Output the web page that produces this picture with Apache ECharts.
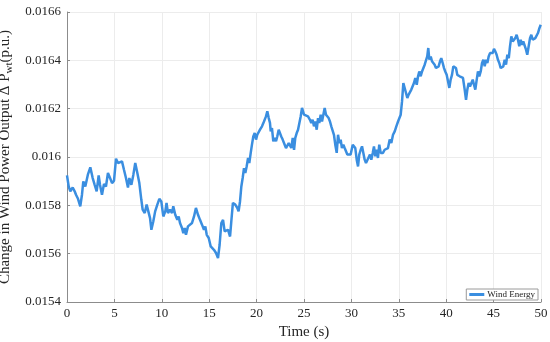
<!DOCTYPE html>
<html>
<head>
<meta charset="utf-8">
<script src="https://cdn.jsdelivr.net/npm/echarts@6/dist/echarts.min.js"></script>
<style>
  html, body { margin: 0; padding: 0; background: #fff; }
  #chart { width: 550px; height: 342px; }
</style>
</head>
<body>
<div id="chart"></div>
<script>
  // time (s) and wind power change (p.u.)
  const times = [
    0, 0.18, 0.35, 0.6, 0.81, 0.95, 1.16, 1.4, 1.58, 1.72, 1.93, 2.2, 2.46, 2.71, 2.92, 3.13, 3.34, 3.48, 3.69, 3.9,
    4.11, 4.32, 4.54, 4.75, 4.96, 5.17, 5.38, 5.59, 5.8, 6.01, 6.22, 6.43, 6.58, 6.79, 7.0, 7.2, 7.42, 7.63, 7.84,
    7.98, 8.2, 8.4, 8.6, 8.76, 8.9, 9.1, 9.3, 9.53, 9.74, 9.95, 10.16, 10.37, 10.5, 10.65, 10.87, 11.08, 11.21, 11.42,
    11.64, 11.78, 11.92, 12.13, 12.27, 12.42, 12.55, 12.76, 12.97, 13.19, 13.4, 13.6, 13.82, 14.03, 14.24, 14.45,
    14.59, 14.74, 14.95, 15.16, 15.37, 15.5, 15.72, 15.93,
    16.1, 16.28, 16.46, 16.63, 16.8, 16.98, 17.2, 17.33, 17.5, 17.75, 17.97, 18.1, 18.25, 18.39, 18.53, 18.67, 18.81,
    18.95, 19.1, 19.23, 19.38, 19.51, 19.65, 19.8, 19.94, 20.07, 20.22, 20.36, 20.57, 20.78, 20.99, 21.13, 21.28,
    21.41, 21.49, 21.62, 21.76, 21.91, 22.05, 22.18, 22.33, 22.47, 22.6, 22.75, 22.89, 23.1, 23.24, 23.39, 23.52,
    23.66, 23.81, 23.95, 24.08, 24.23, 24.37, 24.5, 24.65, 24.79,
    25.0, 25.21, 25.42, 25.63, 25.77, 25.91, 26.05, 26.19, 26.34, 26.48, 26.61, 26.76, 26.9, 27.04, 27.18, 27.32,
    27.46, 27.6, 27.74, 27.88, 28.03, 28.16, 28.3, 28.45, 28.59, 28.73, 28.87, 29.0, 29.15, 29.29, 29.43, 29.57,
    29.71, 29.92, 30.14, 30.27, 30.41, 30.56, 30.7, 30.83, 30.98, 31.12, 31.26, 31.4, 31.54, 31.75, 31.96, 32.1,
    32.25, 32.38, 32.52, 32.67, 32.8, 32.94, 33.09,
    33.33, 33.51, 33.68, 33.86, 34.04, 34.21, 34.39, 34.57, 34.74, 34.92, 35.05, 35.2, 35.34, 35.48, 35.62, 35.76,
    35.9, 36.04, 36.18, 36.32, 36.47, 36.6, 36.74, 36.89, 37.03, 37.16, 37.31, 37.45, 37.58, 37.73, 37.87, 38.0,
    38.11, 38.22, 38.37, 38.5, 38.64, 38.78, 38.92, 39.06, 39.2, 39.35, 39.48, 39.63, 39.77, 39.9, 40.05, 40.19,
    40.33, 40.47, 40.61, 40.75, 40.9, 41.03, 41.17,
    41.42, 41.6, 41.77, 41.95, 42.09, 42.23, 42.37, 42.51, 42.65, 42.8, 42.93, 43.07, 43.22, 43.35, 43.49, 43.64,
    43.78, 43.92, 44.06, 44.2, 44.34, 44.48, 44.62, 44.76, 44.9, 45.04, 45.18, 45.32, 45.46, 45.6, 45.75, 45.89,
    46.02, 46.17, 46.31, 46.45, 46.6, 46.73, 46.87, 47.02, 47.15, 47.29, 47.43, 47.57, 47.71, 47.86, 48.0, 48.13,
    48.28, 48.42, 48.55, 48.7, 48.84, 48.98, 49.12, 49.26, 49.4, 49.55, 49.68, 49.83, 49.97
  ];
  const windEnergy = [
    0.015924, 0.015878, 0.015858, 0.015874, 0.015858, 0.015844, 0.015827, 0.015796, 0.015844, 0.015899, 0.015878,
    0.015927, 0.015957, 0.015913, 0.015885, 0.015858, 0.015924, 0.015885, 0.015844, 0.015888, 0.015878, 0.015934,
    0.015913, 0.015892, 0.015902, 0.015993, 0.015975, 0.015968, 0.015982, 0.015947, 0.015913, 0.015874, 0.015913,
    0.015885, 0.015927, 0.015975, 0.015934, 0.015892, 0.015823,
    0.015782, 0.015768, 0.015803, 0.015796, 0.015747, 0.015699, 0.015733, 0.015775, 0.015803, 0.015827, 0.015816,
    0.015754, 0.015775, 0.015810, 0.015768, 0.015782, 0.015768, 0.015796, 0.015761, 0.015740, 0.015754, 0.015727,
    0.015706, 0.015685, 0.015706, 0.015678, 0.015713, 0.015713, 0.015727, 0.015754, 0.015789, 0.015761, 0.015740,
    0.015720, 0.015699, 0.015713, 0.015678, 0.015665, 0.015630, 0.015637, 0.015616, 0.015603, 0.015582,
    0.015637, 0.015727, 0.015740, 0.015692, 0.015699, 0.015699, 0.015671, 0.015733, 0.015810, 0.015803, 0.015789,
    0.015775, 0.015816, 0.015878, 0.015913, 0.015954, 0.015934, 0.015961, 0.015996, 0.015975, 0.016017, 0.016051,
    0.016085, 0.016099, 0.016072, 0.016092, 0.016092, 0.016113, 0.016127, 0.016147, 0.016168, 0.016189, 0.016161,
    0.016141, 0.016106, 0.016120, 0.016065, 0.016079, 0.016065, 0.016085, 0.016113, 0.016113, 0.016085, 0.016072,
    0.016058, 0.016037, 0.016030, 0.016058, 0.016065, 0.016037, 0.016079, 0.016030, 0.016079, 0.016099, 0.016113,
    0.016120, 0.016168, 0.016203,
    0.016175, 0.016168, 0.016168, 0.016154, 0.016141, 0.016154, 0.016127, 0.016147, 0.016113, 0.016161, 0.016141,
    0.016175, 0.016147, 0.016175, 0.016203, 0.016175, 0.016182, 0.016161, 0.016147, 0.016127, 0.016120, 0.016092,
    0.016051, 0.016017, 0.016092, 0.016058, 0.016072, 0.016037, 0.016051, 0.016037, 0.016030, 0.016010, 0.016003,
    0.016010, 0.016051, 0.016058, 0.016037, 0.015989, 0.015961, 0.016010, 0.016030, 0.016044, 0.016017, 0.015989,
    0.015975, 0.015982, 0.016010, 0.015989, 0.016017, 0.016044, 0.016003, 0.016030, 0.015996, 0.016051, 0.016017,
    0.016017, 0.016030, 0.016023, 0.016037, 0.016072, 0.016058, 0.016092, 0.016106, 0.016127, 0.016147, 0.016141,
    0.016175, 0.016230, 0.016306, 0.016299, 0.016265, 0.016244, 0.016258, 0.016251, 0.016279, 0.016286, 0.016306,
    0.016327, 0.016299, 0.016334, 0.016354, 0.016334, 0.016354, 0.016361, 0.016382, 0.016389, 0.016416, 0.016451,
    0.016403, 0.016416, 0.016396, 0.016389, 0.016382, 0.016368, 0.016361, 0.016375, 0.016396, 0.016409, 0.016389,
    0.016368, 0.016354, 0.016340, 0.016313, 0.016286, 0.016320, 0.016340, 0.016375, 0.016382, 0.016368, 0.016340,
    0.016334, 0.016340, 0.016327, 0.016279, 0.016237, 0.016279, 0.016306, 0.016292, 0.016299, 0.016320, 0.016299,
    0.016279, 0.016320, 0.016354, 0.016334, 0.016354, 0.016389, 0.016402, 0.016375, 0.016402, 0.016389, 0.016416,
    0.016430, 0.016423, 0.016430, 0.016447, 0.016437, 0.016423, 0.016402, 0.016389, 0.016368, 0.016361, 0.016375,
    0.016402, 0.016382, 0.016423, 0.016409, 0.016458, 0.016499, 0.016478, 0.016471, 0.016492, 0.016506, 0.016485,
    0.016458, 0.016485, 0.016464, 0.016478, 0.016471, 0.016444, 0.016423, 0.016458, 0.016492, 0.016506, 0.016485,
    0.016478, 0.016492, 0.016499, 0.016513, 0.016533, 0.016547
  ];
  const xTicks = { min: 0, max: 50, interval: 5 };
  const yTicks = { min: 0.0154, max: 0.0166, interval: 0.0002 };

  const font = '"Liberation Serif", "Times New Roman", serif';
  const chart = echarts.init(document.getElementById('chart'));
  const seriesData = times.map((t, i) => [t, windEnergy[i]]);

  chart.setOption({
    animation: false,
    textStyle: { fontFamily: font },
    grid: { left: 67, right: 9, top: 12, bottom: 40, containLabel: false, outerBoundsMode: 'none' },
    legend: {
      data: ['Wind Energy'],
      right: 12,
      bottom: 42,
      orient: 'vertical',
      backgroundColor: '#fff',
      borderColor: '#9a9a9a',
      borderWidth: 1,
      borderRadius: 0,
      padding: [1, 3, 1, 3],
      itemWidth: 15,
      itemHeight: 3,
      itemGap: 2,
      icon: 'rect',
      textStyle: { fontFamily: font, fontSize: 9, color: '#222', padding: [0, 0, 0, -2] }
    },
    xAxis: {
      type: 'value',
      min: xTicks.min,
      max: xTicks.max,
      interval: xTicks.interval,
      name: 'Time (s)',
      nameLocation: 'middle',
      nameGap: 21,
      nameTextStyle: { fontFamily: font, fontSize: 15, color: '#262626' },
      axisLine: { show: true, lineStyle: { color: '#8c8c8c', width: 1 } },
      axisTick: { show: true, inside: true, length: 3, lineStyle: { color: '#8c8c8c' } },
      axisLabel: { fontFamily: font, fontSize: 13, color: '#262626', margin: 5 },
      splitLine: { show: true, lineStyle: { color: '#ececec', width: 1 } }
    },
    yAxis: {
      type: 'value',
      min: yTicks.min,
      max: yTicks.max,
      interval: yTicks.interval,
      name: '{n|Change in Wind Power Output Δ P}{s|wt}{n|(p.u.)}',
      nameLocation: 'middle',
      nameGap: 47,
      nameTextStyle: {
        color: '#262626',
        rich: {
          n: { fontFamily: font, fontSize: 15, color: '#262626', lineHeight: 18 },
          s: { fontFamily: font, fontSize: 11, color: '#262626', lineHeight: 18, padding: [8, 0, 0, 0] }
        }
      },
      axisLine: { show: true, lineStyle: { color: '#8c8c8c', width: 1 } },
      axisTick: { show: true, inside: true, length: 3, lineStyle: { color: '#8c8c8c' } },
      axisLabel: {
        fontFamily: font, fontSize: 13, color: '#262626', margin: 6,
        formatter: v => String(parseFloat(v.toFixed(4)))
      },
      splitLine: { show: true, lineStyle: { color: '#ececec', width: 1 } }
    },
    series: [{
      name: 'Wind Energy',
      type: 'line',
      data: seriesData,
      showSymbol: false,
      color: '#3a8ee0',
      lineStyle: { width: 2.5, color: '#3a8ee0' }
    }]
  });
</script>
</body>
</html>
